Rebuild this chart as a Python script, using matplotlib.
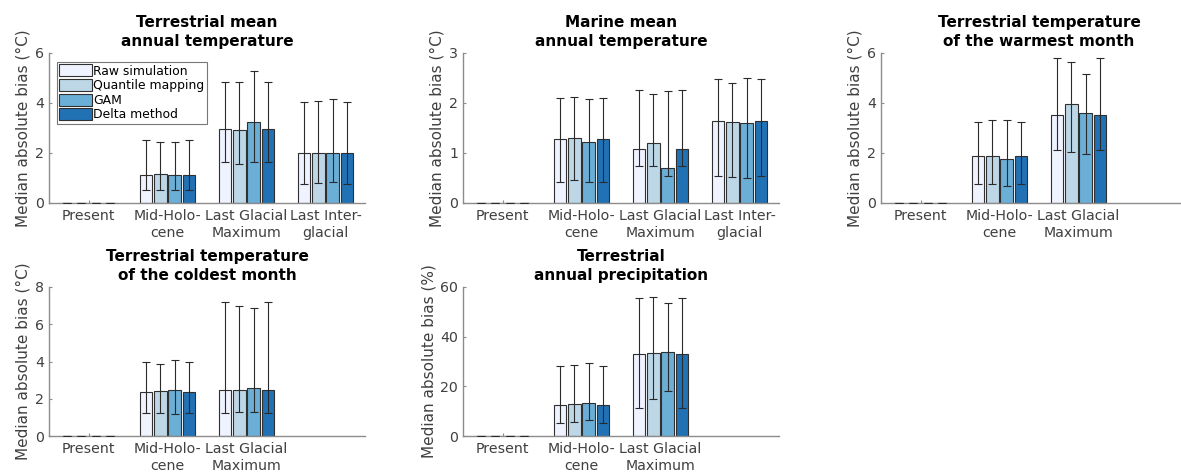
import numpy as np
import matplotlib
matplotlib.use('Agg')
import matplotlib.pyplot as plt

# methods and colours
methods = ['Raw simulation', 'Quantile mapping', 'GAM', 'Delta method']
colors = ['#eff3ff', '#bdd7e7', '#6baed6', '#2171b5']

periods4 = ['Present', 'Mid-Holo-\ncene', 'Last Glacial\nMaximum', 'Last Inter-\nglacial']
periods3 = ['Present', 'Mid-Holo-\ncene', 'Last Glacial\nMaximum']

# rows = method, cols = period ; median / lower / upper of error bar
tmat_med = [[0, 1.12, 2.95, 2.01], [0, 1.16, 2.92, 2.01], [0, 1.12, 3.24, 2.01], [0, 1.11, 2.95, 2.01]]
tmat_lo = [[0, 0.52, 1.64, 0.75], [0, 0.52, 1.57, 0.81], [0, 0.52, 1.64, 0.84], [0, 0.52, 1.64, 0.75]]
tmat_hi = [[0, 2.51, 4.83, 4.05], [0, 2.44, 4.83, 4.09], [0, 2.45, 5.28, 4.16], [0, 2.51, 4.83, 4.05]]

mmat_med = [[0, 1.29, 1.09, 1.65], [0, 1.31, 1.21, 1.62], [0, 1.23, 0.71, 1.61], [0, 1.29, 1.09, 1.65]]
mmat_lo = [[0, 0.43, 0.74, 0.55], [0, 0.47, 0.75, 0.53], [0, 0.42, 0.55, 0.51], [0, 0.43, 0.74, 0.55]]
mmat_hi = [[0, 2.10, 2.27, 2.47], [0, 2.13, 2.19, 2.41], [0, 2.09, 2.25, 2.49], [0, 2.10, 2.27, 2.47]]

mtwa_med = [[0, 1.89, 3.52], [0, 1.89, 3.95], [0, 1.77, 3.59], [0, 1.89, 3.52]]
mtwa_lo = [[0, 0.75, 2.12], [0, 0.75, 2.05], [0, 0.68, 1.95], [0, 0.75, 2.12]]
mtwa_hi = [[0, 3.24, 5.80], [0, 3.33, 5.63], [0, 3.33, 5.16], [0, 3.24, 5.80]]

mtco_med = [[0, 2.38, 2.45], [0, 2.42, 2.49], [0, 2.45, 2.59], [0, 2.36, 2.45]]
mtco_lo = [[0, 1.22, 1.22], [0, 1.22, 1.27], [0, 1.16, 1.31], [0, 1.22, 1.22]]
mtco_hi = [[0, 3.97, 7.19], [0, 3.88, 6.98], [0, 4.10, 6.85], [0, 3.97, 7.19]]

map_med = [[0, 12.4, 32.9], [0, 13.0, 33.6], [0, 13.3, 34.0], [0, 12.4, 32.9]]
map_lo = [[0, 5.4, 11.4], [0, 5.6, 14.9], [0, 6.3, 18.1], [0, 5.4, 11.4]]
map_hi = [[0, 28.2, 55.6], [0, 28.5, 55.9], [0, 29.5, 53.7], [0, 28.2, 55.6]]

plt.rcParams['font.family'] = ['DejaVu Sans']

fig = plt.figure(figsize=(11.81, 4.75), dpi=100)

W = 316 / 1181
H_top = 150 / 475
H_bot = 149 / 475
panels = [
    # left, bottom, height, title, med, lo, hi, labels, ymax, yticks, unit
    (49 / 1181, 272 / 475, H_top, 'Terrestrial mean\nannual temperature', tmat_med, tmat_lo, tmat_hi, periods4, 6, [0, 2, 4, 6], '(°C)'),
    (463 / 1181, 272 / 475, H_top, 'Marine mean\nannual temperature', mmat_med, mmat_lo, mmat_hi, periods4, 3, [0, 1, 2, 3], '(°C)'),
    (881 / 1181, 272 / 475, H_top, 'Terrestrial temperature\nof the warmest month', mtwa_med, mtwa_lo, mtwa_hi, periods3, 6, [0, 2, 4, 6], '(°C)'),
    (49 / 1181, 39 / 475, H_bot, 'Terrestrial temperature\nof the coldest month', mtco_med, mtco_lo, mtco_hi, periods3, 8, [0, 2, 4, 6, 8], '(°C)'),
    (463 / 1181, 39 / 475, H_bot, 'Terrestrial\nannual precipitation', map_med, map_lo, map_hi, periods3, 60, [0, 20, 40, 60], '(%)'),
]

bar_w = 0.155
offsets = [-0.27, -0.09, 0.09, 0.27]
tick_col = '#404040'

for i, (left, bottom, h, title, med, lo, hi, labels, ymax, yticks, unit) in enumerate(panels):
    ax = fig.add_axes([left, bottom, W, h])
    x = np.arange(1, len(labels) + 1)
    med = np.array(med)
    lo = np.array(lo)
    hi = np.array(hi)
    for j in range(len(methods)):
        ax.bar(x + offsets[j], med[j], width=bar_w, color=colors[j], edgecolor='#303030',
               linewidth=0.8, label=methods[j], zorder=2)
        ax.errorbar(x + offsets[j], med[j], yerr=[med[j] - lo[j], hi[j] - med[j]], fmt='none',
                    ecolor='#2a2a2a', elinewidth=0.8, capsize=2.6, capthick=0.8, zorder=3)
    ax.set_xlim(0.5, 4.5)
    ax.set_ylim(0, ymax)
    ax.set_yticks(yticks)
    ax.set_xticks(x)
    ax.set_xticklabels(labels, linespacing=1.35)
    ax.set_ylabel('Median absolute bias ' + unit, fontsize=11, color=tick_col, labelpad=3)
    ax.set_title(title, fontsize=11, fontweight='bold', pad=5, linespacing=1.3)
    for s in ['top', 'right']:
        ax.spines[s].set_visible(False)
    for s in ['left', 'bottom']:
        ax.spines[s].set_color('#8c8c8c')
        ax.spines[s].set_linewidth(1.0)
    ax.tick_params(axis='both', direction='in', length=2, colors='#8c8c8c',
                   labelcolor=tick_col, labelsize=10.2)
    ax.tick_params(axis='x', pad=4)
    if i == 0:
        leg = ax.legend(loc='upper left', bbox_to_anchor=(0.025, 0.94), borderaxespad=0,
                        fontsize=8.9, frameon=True, fancybox=False, handlelength=2.6,
                        handleheight=1.1, handletextpad=0.15, labelspacing=0.12,
                        borderpad=0.2)
        leg.get_frame().set_edgecolor('#555555')
        leg.get_frame().set_linewidth(0.8)

fig.savefig('out.png', dpi=100)
